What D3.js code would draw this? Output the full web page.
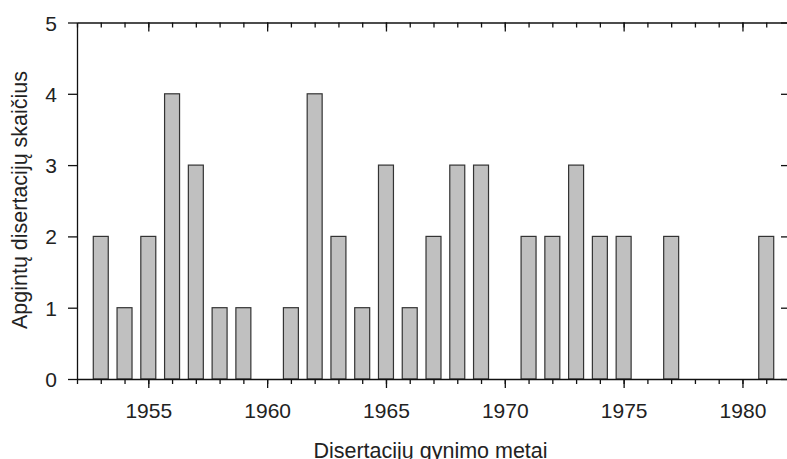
<!DOCTYPE html>
<html>
<head>
<meta charset="utf-8">
<script src="https://cdn.jsdelivr.net/npm/d3@7"></script>
<style>
  html, body { margin: 0; padding: 0; background: #fff; }
  svg { display: block; }
  text { font-family: "Liberation Sans", Arial, sans-serif; fill: #222; }
</style>
</head>
<body>
<svg id="chart" width="787" height="459"></svg>
<script>
// Defended dissertations per year
const years  = [1953, 1954, 1955, 1956, 1957, 1958, 1959, 1960, 1961, 1962,
                1963, 1964, 1965, 1966, 1967, 1968, 1969, 1970, 1971, 1972,
                1973, 1974, 1975, 1976, 1977, 1978, 1979, 1980, 1981];
const counts = [2, 1, 2, 4, 3, 1, 1, 0, 1, 4,
                2, 1, 3, 1, 2, 3, 3, 0, 2, 2,
                3, 2, 2, 0, 2, 0, 0, 0, 2];
const xDomain = [1952, 1982];
const yDomain = [0, 5];
const xMajorTicks = [1955, 1960, 1965, 1970, 1975, 1980];
const yTicks = [0, 1, 2, 3, 4, 5];
const xTitle = "Disertacijų gynimo metai";
const yTitle = "Apgintų disertacijų skaičius";

const svg = d3.select("#chart");
const plotLeft = 77, plotRight = 790, plotTop = 22.5, plotBottom = 379;

const x = d3.scaleLinear().domain(xDomain).range([plotLeft, plotRight]);
const y = d3.scaleLinear().domain(yDomain).range([plotBottom, plotTop]);
const step = x(1) - x(0);
const barW = step * 0.63;

const minorYears = d3.range(xDomain[0], xDomain[1] + 1);

// Bars
svg.append("g")
  .selectAll("rect")
  .data(years.map((yr, i) => ({ yr, v: counts[i] })).filter(d => d.v > 0))
  .join("rect")
  .attr("x", d => x(d.yr) - barW / 2)
  .attr("y", d => y(d.v))
  .attr("width", barW)
  .attr("height", d => y(0) - y(d.v))
  .attr("fill", "#c0c0c0")
  .attr("stroke", "#333")
  .attr("stroke-width", 1.2);

function styleAxis(g) {
  g.select(".domain").attr("stroke", "#111").attr("stroke-width", 1.3);
  g.selectAll(".tick line").attr("stroke", "#111").attr("stroke-width", 1.3);
  g.selectAll("text").attr("font-size", 21).attr("fill", "#222")
    .attr("font-family", "'Liberation Sans', Arial, sans-serif");
}

// Bottom axis: minor year ticks plus labelled major ticks
svg.append("g")
  .attr("transform", `translate(0,${plotBottom})`)
  .call(d3.axisBottom(x).tickValues(minorYears).tickSize(5).tickSizeOuter(0).tickFormat(""))
  .call(styleAxis);
svg.append("g")
  .attr("transform", `translate(0,${plotBottom})`)
  .call(d3.axisBottom(x).tickValues(xMajorTicks).tickSize(9).tickSizeOuter(0)
        .tickPadding(15).tickFormat(d3.format("d")))
  .call(styleAxis)
  .call(g => g.select(".domain").remove());

// Top axis: inward ticks
svg.append("g")
  .attr("transform", `translate(0,${plotTop})`)
  .call(d3.axisBottom(x).tickValues(minorYears).tickSize(5).tickSizeOuter(0).tickFormat(""))
  .call(styleAxis);
svg.append("g")
  .attr("transform", `translate(0,${plotTop})`)
  .call(d3.axisBottom(x).tickValues(xMajorTicks).tickSize(9).tickSizeOuter(0).tickFormat(""))
  .call(styleAxis)
  .call(g => g.select(".domain").remove());

// Left axis
svg.append("g")
  .attr("transform", `translate(${plotLeft},0)`)
  .call(d3.axisLeft(y).tickValues(yTicks).tickSize(9).tickSizeOuter(0).tickPadding(11)
        .tickFormat(d3.format("d")))
  .call(styleAxis)
  .call(g => g.selectAll("text").attr("dy", "0.36em"));

// Right axis: inward ticks
svg.append("g")
  .attr("transform", `translate(${plotRight},0)`)
  .call(d3.axisLeft(y).tickValues(yTicks).tickSize(9).tickSizeOuter(0).tickFormat(""))
  .call(styleAxis);

// Axis titles
svg.append("text")
  .attr("x", (x(1952) + x(1982)) / 2 - 3)
  .attr("y", 457.5)
  .attr("text-anchor", "middle")
  .attr("font-size", 21.5)
  .text(xTitle);

svg.append("text")
  .attr("transform", `translate(27,${200}) rotate(-90)`)
  .attr("text-anchor", "middle")
  .attr("font-size", 21.5)
  .text(yTitle);
</script>
</body>
</html>
